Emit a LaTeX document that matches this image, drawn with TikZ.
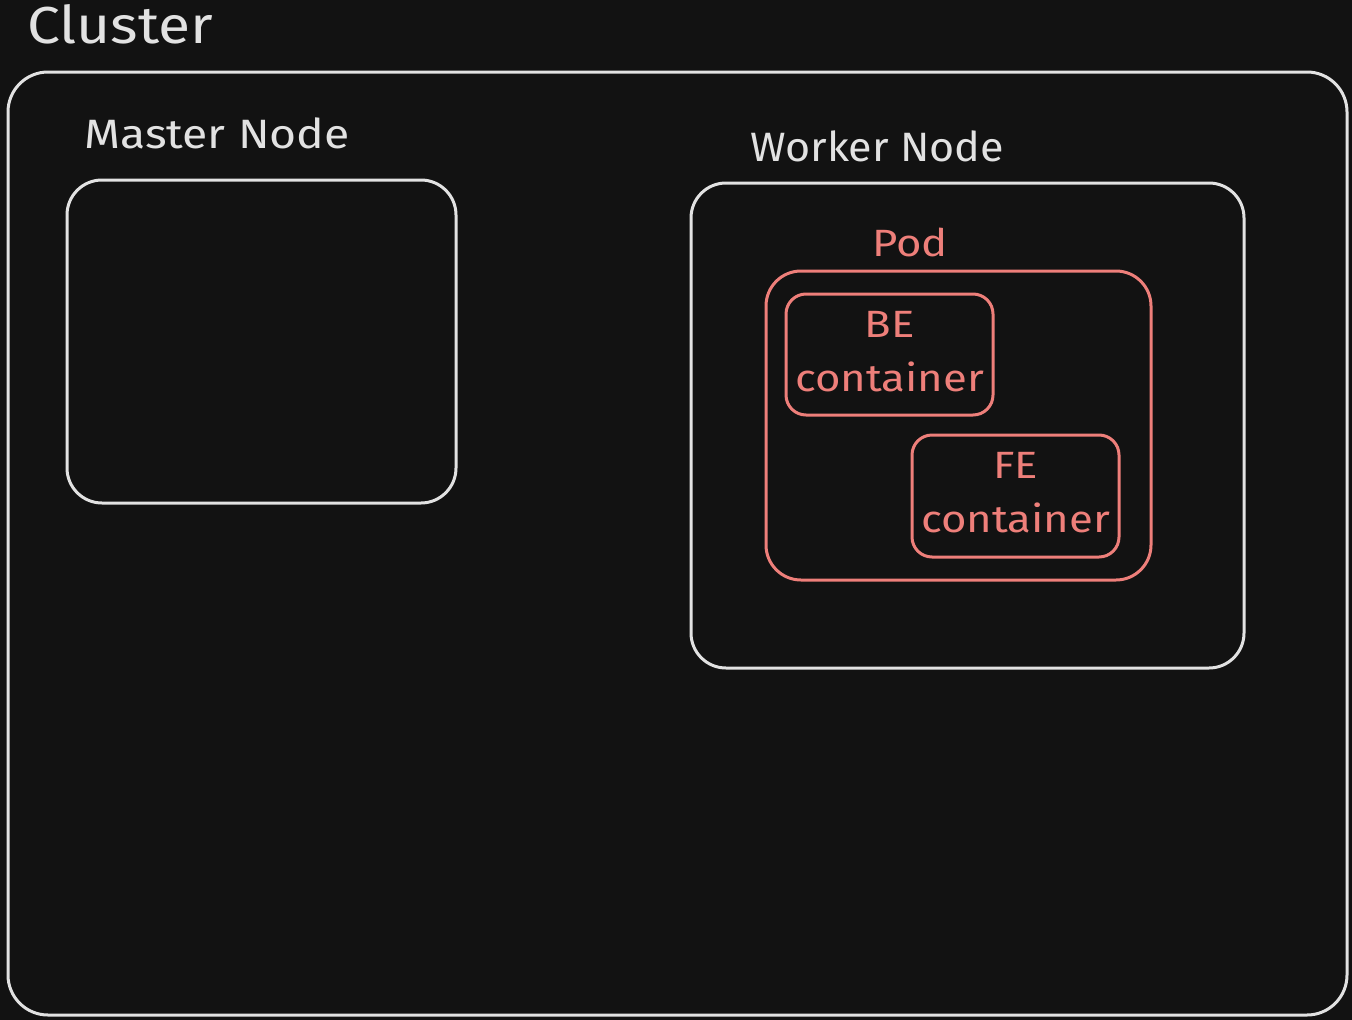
\documentclass[tikz,border=0pt]{standalone}
\usepackage{fontspec}
\setmainfont{Fira Sans}
\definecolor{bg}{HTML}{121212}
\definecolor{ink}{HTML}{E2E2E2}
\definecolor{redink}{HTML}{EE7F7A}
\newcommand{\wide}[2]{\scalebox{#1}[1]{#2}}
\begin{document}
\begin{tikzpicture}[x=1pt,y=-1pt,
  box/.style={draw=ink,line width=3pt,rounded corners=#1,inner sep=0pt},
  redbox/.style={draw=redink,line width=3pt,rounded corners=#1,inner sep=0pt},
  lbl/.style={text=ink,inner sep=0pt,font=\fontsize{41}{44}\selectfont},
  rlbl/.style={text=redink,inner sep=0pt,font=\fontsize{38}{54}\selectfont,align=center}]
\fill[bg] (0,0) rectangle (1352,1020);
\useasboundingbox (0,0) rectangle (1352,1020);
% boxes
\node[box=40pt,minimum width=1339pt,minimum height=943pt] (cluster) at (677.5,543.5) {};
\node[box=35pt,minimum width=389pt,minimum height=323pt] (master) at (261.5,341.5) {};
\node[box=35pt,minimum width=553pt,minimum height=485pt] (worker) at (967.5,425.5) {};
\node[redbox=35pt,minimum width=385pt,minimum height=309pt] (pod) at (958.5,425.5) {};
\node[redbox=20pt,minimum width=207pt,minimum height=121pt] (be) at (889.5,354.5) {};
\node[redbox=20pt,minimum width=207pt,minimum height=122pt] (fe) at (1015.5,496) {};
% labels
\node[lbl,anchor=west,font=\fontsize{52}{56}\selectfont] (tcluster) at (27,24) {\wide{1.13}{Cluster}};
\node[lbl,anchor=west] (tmaster) at (84,133) {\wide{1.13}{Master Node}};
\node[lbl,anchor=west] (tworker) at (750,146) {\wide{1.05}{Worker Node}};
\node[rlbl,anchor=west] (tpod) at (872,242) {\wide{1.15}{Pod}};
\node[rlbl] (tbe) at ([yshift=3pt]be.center) {\wide{1.15}{BE}\\\wide{1.15}{container}};
\node[rlbl] (tfe) at ([yshift=3pt]fe.center) {\wide{1.15}{FE}\\\wide{1.15}{container}};
\end{tikzpicture}
\end{document}
